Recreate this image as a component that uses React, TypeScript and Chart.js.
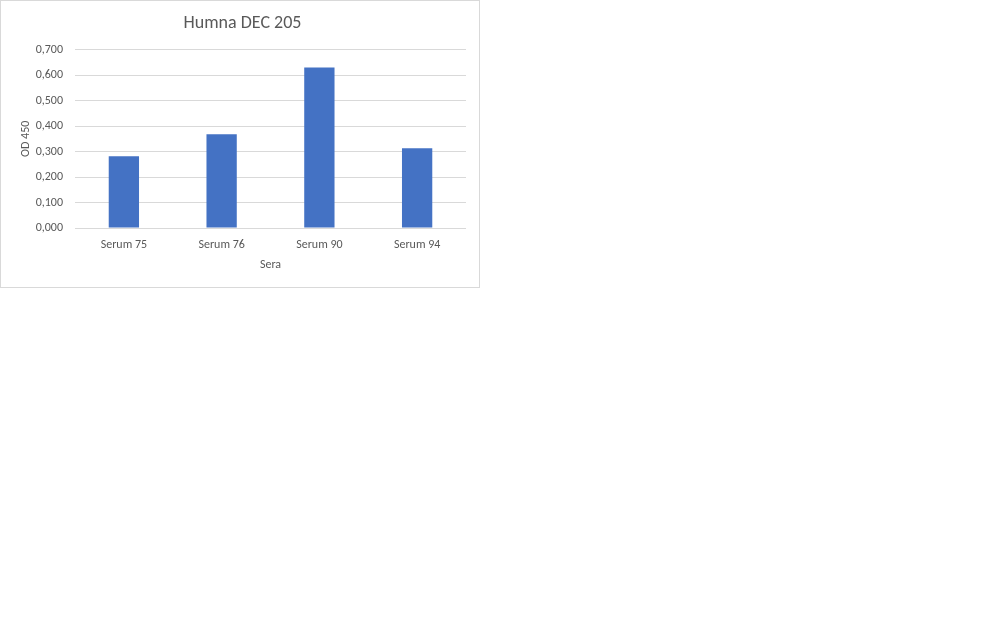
import React from "react";
import { Chart, registerables } from "chart.js";

Chart.register(...registerables);

const categories = ["Serum 75", "Serum 76", "Serum 90", "Serum 94"];
const od450 = [0.282, 0.368, 0.630, 0.313];
const yMax = 0.7;
const yStep = 0.1;

const chartTitle = "Humna DEC 205";
const xTitle = "Sera";
const yTitle = "OD 450";

const FONT = "Calibri, Carlito, Lato, sans-serif";
const TEXT = "#595959";
const GRID = "#d9d9d9";

export default function App() {
    const canvasRef = React.useRef<HTMLCanvasElement | null>(null);

    React.useEffect(() => {
        if (!canvasRef.current) return;
        const chart = new Chart(canvasRef.current, {
            type: "bar",
            data: {
                labels: categories,
                datasets: [{
                    data: od450,
                    backgroundColor: "#4472c4",
                    barPercentage: 0.31,
                    categoryPercentage: 1,
                }],
            },
            options: {
                animation: false,
                responsive: true,
                maintainAspectRatio: false,
                layout: { padding: { left: 18, right: 13, top: 0, bottom: 15 } },
                plugins: {
                    legend: { display: false },
                    tooltip: { enabled: false },
                    title: {
                        display: true,
                        text: chartTitle,
                        color: TEXT,
                        font: { family: FONT, size: 18, weight: "normal" },
                        padding: { top: 12, bottom: 15 },
                    },
                },
                scales: {
                    x: {
                        grid: { display: false },
                        border: { display: false },
                        ticks: { color: TEXT, font: { family: FONT, size: 12 }, padding: 2 },
                        title: {
                            display: true,
                            text: xTitle,
                            color: TEXT,
                            font: { family: FONT, size: 12 },
                            padding: 0,
                        },
                        // @ts-ignore
                        afterFit: (scale: any) => { scale.height = 44; },
                    },
                    y: {
                        min: 0,
                        max: yMax,
                        grid: { color: GRID, drawTicks: false },
                        border: { display: false },
                        ticks: {
                            stepSize: yStep,
                            color: TEXT,
                            font: { family: FONT, size: 12 },
                            padding: 12,
                            callback: (v: any) => Number(v).toFixed(3).replace(".", ","),
                        },
                        title: {
                            display: true,
                            text: yTitle,
                            color: TEXT,
                            font: { family: FONT, size: 12 },
                            padding: 0,
                        },
                        // @ts-ignore
                        afterFit: (scale: any) => { scale.width = 56; },
                    },
                },
            },
        });
        return () => chart.destroy();
    }, []);

    return (
        <div style={{position: "absolute", left: 0, top: 0, width: 478, height: 286,
            border: "1px solid #d9d9d9", background: "#fff"}}>
            <canvas ref={canvasRef}></canvas>
        </div>
    );
}
